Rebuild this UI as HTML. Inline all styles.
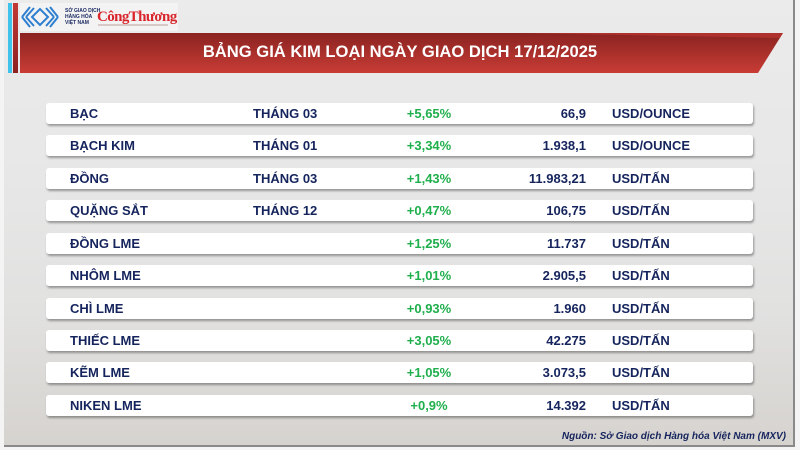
<!DOCTYPE html>
<html>
<head>
<meta charset="utf-8">
<style>
  html,body{margin:0;padding:0;}
  body{width:800px;height:450px;position:relative;overflow:hidden;background:#f4f4f4;font-family:"Liberation Sans","DejaVu Sans",sans-serif;}
  .bg{position:absolute;left:4px;top:0;width:789px;height:445px;
      background:linear-gradient(180deg,#ebebeb 0%,#e7e7e7 40%,#e1e1e0 70%,#d6d3cf 100%);}
  .rline{position:absolute;left:793px;top:0;width:2px;height:447px;background:#8a8a8a;}
  .bline{position:absolute;left:4px;top:445px;width:791px;height:2px;background:#8a8a8a;}
  .cyan{position:absolute;left:8px;top:3px;width:4px;height:70px;background:#3fc3ea;}
  .redbar{position:absolute;left:13px;top:3px;width:5px;height:70px;background:linear-gradient(180deg,#c23a36,#8c2222);}
  .logo{position:absolute;left:20px;top:3px;width:158px;height:28px;background:#f3f3f3;}
  .banner{position:absolute;left:20px;top:33px;width:770px;height:40px;}
  .title{position:absolute;left:0;width:800px;top:41px;text-align:center;color:#fff;font-weight:bold;font-size:16.6px;line-height:22px;}
  .row{position:absolute;left:46px;width:707px;height:21px;background:#fff;border-radius:3px;box-shadow:1px 2px 2px rgba(0,0,0,0.35);
       font-weight:bold;font-size:13px;line-height:21px;color:#15245d;}
  .row span{position:absolute;top:0;white-space:nowrap;}
  .c1{left:24px;}
  .c2{left:207px;}
  .c3{left:333px;width:100px;text-align:center;color:#1faf4c;}
  .c4{right:167px;text-align:right;}
  .c5{left:566px;}
  .src{position:absolute;right:14px;top:431px;font-size:10px;font-weight:bold;font-style:italic;color:#15245d;}
</style>
</head>
<body>
<div class="bg"></div>
<div class="rline"></div>
<div class="bline"></div>
<div class="cyan"></div>
<div class="redbar"></div>
<div class="logo">
  <svg width="158" height="28" viewBox="0 0 158 28">
    <g fill="none" stroke="#2e7fd0" stroke-width="2">
      <path d="M12 14 L20 6 L28 14 L20 22 Z"/>
      <path d="M6 14 L14 5"/><path d="M6 14 L14 23"/>
      <path d="M34 14 L26 5"/><path d="M34 14 L26 23"/>
      <path d="M2 14 L10 4"/><path d="M2 14 L10 24"/>
      <path d="M38 14 L30 4"/><path d="M38 14 L30 24"/>
    </g>
    <text x="45" y="9" font-family="Liberation Sans, sans-serif" font-size="5" font-weight="bold" fill="#1b2a63">SỞ GIAO DỊCH</text>
    <text x="45" y="15" font-family="Liberation Sans, sans-serif" font-size="5" font-weight="bold" fill="#1b2a63">HÀNG HÓA</text>
    <text x="45" y="21" font-family="Liberation Sans, sans-serif" font-size="5" font-weight="bold" fill="#1b2a63">VIỆT NAM</text>
    <text x="77" y="18" font-family="Liberation Serif, serif" font-size="15" font-weight="bold" fill="#d9262c" letter-spacing="-0.6">CôngThương</text>
    <rect x="78" y="21" width="70" height="2" fill="#d8c8c8"/>
  </svg>
</div>
<svg class="banner" width="770" height="40" viewBox="0 0 770 40">
  <defs>
    <linearGradient id="g" x1="0" y1="0" x2="0" y2="1">
      <stop offset="0" stop-color="#8a2321"/>
      <stop offset="1" stop-color="#c93c35"/>
    </linearGradient>
  </defs>
  <polygon points="0,0 763,0 738,40 0,40" fill="url(#g)"/>
  <polygon points="500,0 763,0 760,5" fill="#c53a35" opacity="0.6"/>
</svg>
<div class="title">BẢNG GIÁ KIM LOẠI NGÀY GIAO DỊCH 17/12/2025</div>

<div class="row" style="top:103px"><span class="c1">BẠC</span><span class="c2">THÁNG 03</span><span class="c3">+5,65%</span><span class="c4">66,9</span><span class="c5">USD/OUNCE</span></div>
<div class="row" style="top:135px"><span class="c1">BẠCH KIM</span><span class="c2">THÁNG 01</span><span class="c3">+3,34%</span><span class="c4">1.938,1</span><span class="c5">USD/OUNCE</span></div>
<div class="row" style="top:168px"><span class="c1">ĐỒNG</span><span class="c2">THÁNG 03</span><span class="c3">+1,43%</span><span class="c4">11.983,21</span><span class="c5">USD/TẤN</span></div>
<div class="row" style="top:200px"><span class="c1">QUẶNG SẮT</span><span class="c2">THÁNG 12</span><span class="c3">+0,47%</span><span class="c4">106,75</span><span class="c5">USD/TẤN</span></div>
<div class="row" style="top:233px"><span class="c1">ĐỒNG LME</span><span class="c3">+1,25%</span><span class="c4">11.737</span><span class="c5">USD/TẤN</span></div>
<div class="row" style="top:265px"><span class="c1">NHÔM LME</span><span class="c3">+1,01%</span><span class="c4">2.905,5</span><span class="c5">USD/TẤN</span></div>
<div class="row" style="top:298px"><span class="c1">CHÌ LME</span><span class="c3">+0,93%</span><span class="c4">1.960</span><span class="c5">USD/TẤN</span></div>
<div class="row" style="top:330px"><span class="c1">THIẾC LME</span><span class="c3">+3,05%</span><span class="c4">42.275</span><span class="c5">USD/TẤN</span></div>
<div class="row" style="top:362px"><span class="c1">KẼM LME</span><span class="c3">+1,05%</span><span class="c4">3.073,5</span><span class="c5">USD/TẤN</span></div>
<div class="row" style="top:395px"><span class="c1">NIKEN LME</span><span class="c3">+0,9%</span><span class="c4">14.392</span><span class="c5">USD/TẤN</span></div>

<div class="src">Nguồn: Sở Giao dịch Hàng hóa Việt Nam (MXV)</div>
</body>
</html>
